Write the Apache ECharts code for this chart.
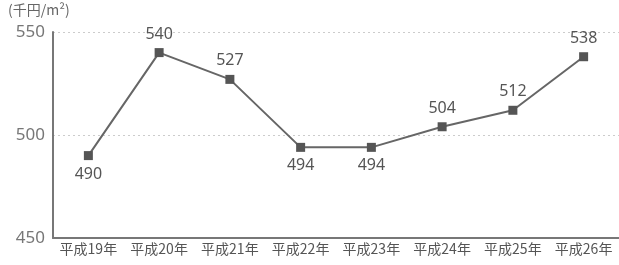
<!DOCTYPE html>
<html>
<head>
<meta charset="utf-8">
<script src="https://cdn.jsdelivr.net/npm/echarts@6/dist/echarts.min.js"></script>
<style>
  html, body { margin: 0; padding: 0; background: #fff; }
  #chart { width: 619px; height: 265px; }
</style>
</head>
<body>
<div id="chart"></div>
<script>
  var categories = ['平成19年', '平成20年', '平成21年', '平成22年', '平成23年', '平成24年', '平成25年', '平成26年'];
  var prices = [490, 540, 527, 494, 494, 504, 512, 538];
  // 値ラベルの位置（上 / 下）
  var labelPos = ['bottom', 'top', 'top', 'bottom', 'bottom', 'top', 'top', 'top'];
  var yTicks = [450, 500, 550];

  var chartDom = document.getElementById('chart');
  var myChart = echarts.init(chartDom);
  var option;

  option = {
    animation: false,
    textStyle: { fontFamily: '"Noto Sans CJK JP", sans-serif' },
    grid: {
      left: 53,
      right: 0,
      top: 32,
      bottom: 27
    },
    graphic: [
      {
        type: 'text',
        left: 8,
        top: 3,
        style: {
          text: '(千円/m²)',
          fill: '#666',
          font: '14px "Noto Sans CJK JP", sans-serif'
        }
      }
    ],
    xAxis: {
      type: 'category',
      data: categories,
      boundaryGap: true,
      axisLine: { lineStyle: { color: '#777', width: 2 } },
      axisTick: { show: false },
      axisLabel: {
        color: '#555',
        fontSize: 14,
        margin: 4,
        interval: 0
      }
    },
    yAxis: {
      type: 'value',
      min: yTicks[0],
      max: yTicks[yTicks.length - 1],
      interval: 50,
      axisLine: { show: true, lineStyle: { color: '#777', width: 2 } },
      axisTick: { show: false },
      axisLabel: {
        color: '#777',
        fontSize: 17,
        margin: 8,
        fontFamily: '"Noto Sans", sans-serif'
      },
      splitLine: {
        lineStyle: { color: '#ccc', type: [2, 3], width: 1 }
      }
    },
    series: [
      {
        type: 'line',
        data: prices.map(function (v, i) {
          return { value: v, label: { position: labelPos[i] } };
        }),
        symbol: 'rect',
        symbolSize: 9,
        lineStyle: { color: '#666', width: 2 },
        itemStyle: { color: '#555' },
        label: {
          show: true,
          color: '#555',
          fontSize: 16,
          distance: 6,
          fontFamily: '"Noto Sans", sans-serif'
        }
      }
    ]
  };
  option && myChart.setOption(option);
</script>
</body>
</html>
